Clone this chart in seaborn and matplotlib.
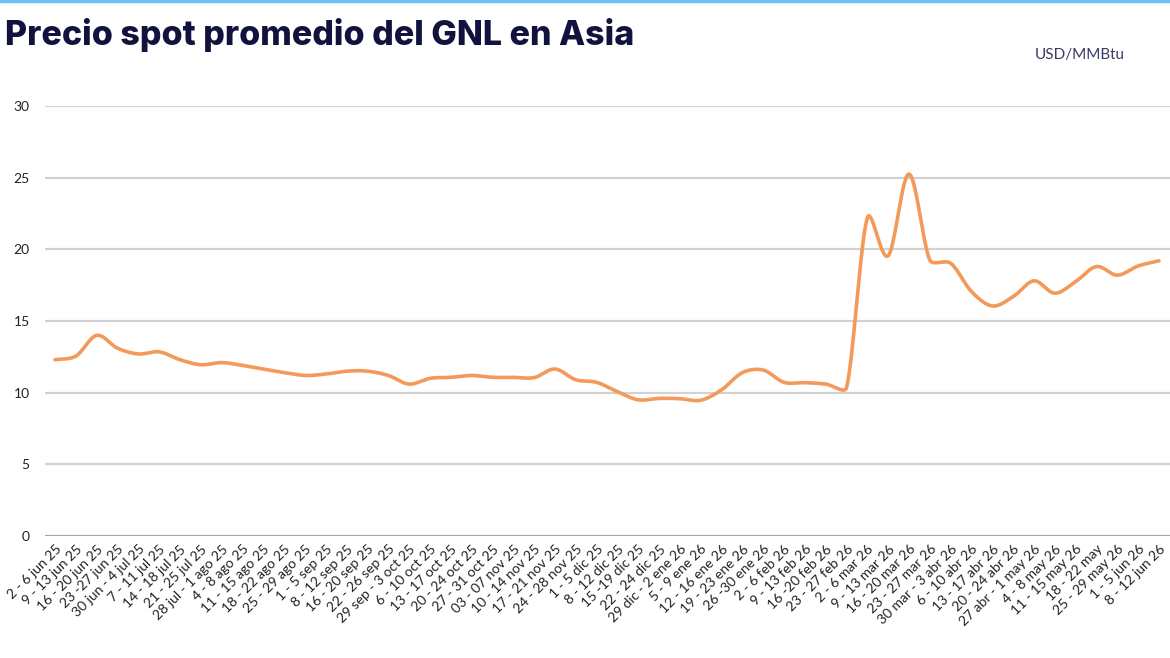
import numpy as np
import pandas as pd
import matplotlib
matplotlib.use('Agg')
import matplotlib.pyplot as plt
import seaborn as sns

# Data (USD/MMBtu, weekly average spot LNG price in Asia)
semanas = [
    '2 - 6 jun 25', '9 - 13 jun 25', '16 - 20 jun 25', '23 -27 jun 25', '30 jun - 4 jul 25',
    '7 - 11 jul 25', '14 - 18 jul 25', '21 - 25 jul 25', '28 jul - 1 ago 25', '4 - 8 ago 25',
    '11 - 15 ago 25', '18 - 22 ago 25', '25 - 29 ago 25', '1 - 5 sep 25', '8 - 12 sep 25',
    '16 - 20 sep 25', '22 - 26 sep 25', '29 sep - 3 oct 25', '6 - 10 oct 25', '13 - 17 oct 25',
    '20 - 24 oct 25', '27 - 31 oct 25', '03 - 07 nov 25', '10 - 14 nov 25', '17 - 21 nov 25',
    '24 - 28 nov 25', '1 - 5 dic 25', '8 - 12 dic 25', '15 -19 dic 25', '22 - 24 dic 25',
    '29 dic - 2 ene 26', '5 - 9 ene 26', '12 - 16 ene 26', '19 - 23 ene 26', '26 -30 ene 26',
    '2 - 6 feb 26', '9 - 13 feb 26', '16 -20 feb 26', '23 - 27 feb 26', '2 - 6 mar 26',
    '9 - 13 mar 26', '16 - 20 mar 26', '23 - 27 mar 26', '30 mar - 3 abr 26', '6 - 10 abr 26',
    '13 - 17 abr 26', '20 - 24 abr 26', '27 abr - 1 may 26', '4 - 8 may 26', '11 - 15 may 26',
    '18 - 22 may', '25 - 29 may 26', '1 - 5 jun 26', '8 - 12 jun 26',
]
precio = [
    12.3, 12.55, 14.0, 13.1, 12.7, 12.85, 12.3, 11.95, 12.1, 11.9,
    11.65, 11.4, 11.2, 11.3, 11.5, 11.5, 11.2, 10.6, 11.0, 11.07,
    11.2, 11.07, 11.07, 11.05, 11.65, 10.9, 10.72, 10.07, 9.5, 9.6,
    9.58, 9.47, 10.2, 11.4, 11.58, 10.72, 10.7, 10.6, 10.35, 22.2,
    19.55, 25.25, 19.25, 19.03, 17.05, 16.05, 16.7, 17.8, 16.94, 17.75,
    18.8, 18.2, 18.84, 19.2,
]
y_ticks = [0, 5, 10, 15, 20, 25, 30]

navy = '#12123f'
orange = '#f39a5b'

sns.set_theme(style='white')
plt.rcParams['font.family'] = ['Lato', 'DejaVu Sans']


# smoothed line: bezier in screen units, control arms = min(catmull-rom, chord based)
def smooth(y, sx=20.83, sy=14.33, f=0.33, n=30):
    P = np.column_stack([np.arange(len(y)) * sx, np.asarray(y, float) * sy])
    m = len(P)
    xs, ys = [], []

    def tangent(i):
        d = P[min(i + 1, m - 1)] - P[max(i - 1, 0)]
        return d / np.hypot(*d), np.hypot(*d) / 6

    for i in range(m - 1):
        p0, p3 = P[i], P[i + 1]
        L = np.hypot(*(p3 - p0))
        d0, a0 = tangent(i)
        d1, a1 = tangent(i + 1)
        c1 = p0 + d0 * min(a0, L * f)
        c2 = p3 - d1 * min(a1, L * f)
        t = np.linspace(0, 1, n, endpoint=False)[:, None]
        B = ((1 - t) ** 3 * p0 + 3 * (1 - t) ** 2 * t * c1
             + 3 * (1 - t) * t ** 2 * c2 + t ** 3 * p3)
        xs.append(B[:, 0])
        ys.append(B[:, 1])
    xs.append([P[-1, 0]])
    ys.append([P[-1, 1]])
    return np.concatenate(xs) / sx, np.concatenate(ys) / sy


cx, cy = smooth(precio)
df = pd.DataFrame({'x': cx, 'precio': cy})

fig = plt.figure(figsize=(11.7, 6.58), dpi=100)
ax = fig.add_axes([0.0385, 0.1854, 0.9615, 0.6535])

for v in y_ticks:
    ax.axhline(v, color='#a8a8a8' if v == 0 else '#d2d2d2', lw=1.6, zorder=1)

sns.lineplot(data=df, x='x', y='precio', color=orange, lw=2.6, ax=ax,
             sort=False, estimator=None, zorder=3)

ax.set_xlim(-0.48, len(semanas) - 1 + 0.53)
ax.set_ylim(0, 30)
ax.set_yticks(y_ticks)
ax.set_yticklabels([str(v) for v in y_ticks], fontsize=10, color='#222222')
ax.set_xticks(range(len(semanas)))
ax.set_xticklabels(semanas, rotation=45, ha='right', rotation_mode='anchor',
                   fontsize=10, color='#222222')
ax.tick_params(axis='y', length=0, pad=11)
ax.tick_params(axis='x', length=0, pad=5)
ax.set_xlabel('')
ax.set_ylabel('')
for s in ax.spines.values():
    s.set_visible(False)
ax.grid(False)

fig.text(0.004, 0.947, 'Precio spot promedio del GNL en Asia', fontsize=24.5,
         fontweight='heavy', color=navy, family=['Inter', 'DejaVu Sans'], va='center')
fig.text(0.884, 0.916, 'USD/MMBtu', fontsize=11, color='#3a3a66', va='center')
# thin blue rule at the very top
fig.add_artist(plt.Line2D([0, 1], [0.999, 0.999], color='#6cc0f2', lw=2.5))

fig.savefig('out.png', dpi=100)
